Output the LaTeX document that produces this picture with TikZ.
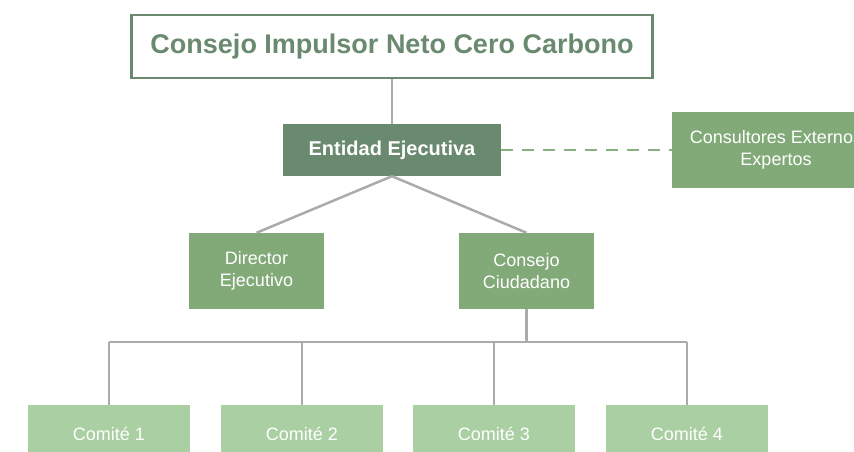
\documentclass[tikz,border=0pt]{standalone}
\usepackage{fontspec}
\setmainfont{Liberation Sans}
\usetikzlibrary{positioning}

\definecolor{darkgreen}{HTML}{698A6E}
\definecolor{midgreen}{HTML}{82AA78}
\definecolor{lightgreen}{HTML}{AACFA2}
\definecolor{linegray}{HTML}{ABABAB}
\definecolor{dashgreen}{HTML}{88B080}

\begin{document}
\begin{tikzpicture}[
    x=1pt, y=-1pt,
    board/.style={rectangle, draw=darkgreen, line width=2.5pt, fill=white, text=darkgreen, font=\fontsize{27}{32}\selectfont\bfseries, minimum width=521pt, minimum height=63pt, inner sep=0pt},
    exec/.style={rectangle, fill=darkgreen, text=white, font=\fontsize{20}{24}\selectfont\bfseries, minimum width=218pt, minimum height=52pt, inner sep=0pt},
    unit/.style={rectangle, fill=midgreen, text=white, align=center, font=\fontsize{18}{22}\selectfont, minimum width=135pt, minimum height=76pt, inner sep=0pt},
    committee/.style={rectangle, fill=lightgreen, text=white, font=\fontsize{18}{21}\selectfont, minimum width=162pt, minimum height=58pt, inner sep=0pt},
    link/.style={draw=linegray, line width=2.5pt},
    advice/.style={draw=dashgreen, line width=2.5pt, dash pattern=on 12pt off 9pt}
]
\useasboundingbox (0,0) rectangle (854,452);

% Top board
\node[board] (board) at (392,46.5) {Consejo Impulsor Neto Cero Carbono};

% Executive entity and external advisors
\node[exec] (entity) at (392,150) {Entidad Ejecutiva};
\node[unit, minimum width=208pt] (advisors) at (776,150) {Consultores Externos\\Expertos};

% Second level
\node[unit] (director) at (256.5,271) {Director\\Ejecutivo};
\node[unit] (council) at (526.5,271) {Consejo\\Ciudadano};

% Committees
\foreach \i/\x in {1/109,2/302,3/494,4/687}
    \node[committee] (c\i) at (\x,434) {Comité \i};

% Connections
\draw[link] (board) -- (entity);
\draw[advice] (entity) -- (advisors);
\draw[link] (entity.south) -- (director.north);
\draw[link] (entity.south) -- (council.north);

% Committee bus
\coordinate (bus) at (526.5,342);
\draw[link] (council.south) -- (bus);
\draw[link] (c1.north |- bus) -- (c4.north |- bus);
\foreach \i in {1,...,4}
    \draw[link] (c\i.north |- bus) -- (c\i.north);

\end{tikzpicture}
\end{document}
